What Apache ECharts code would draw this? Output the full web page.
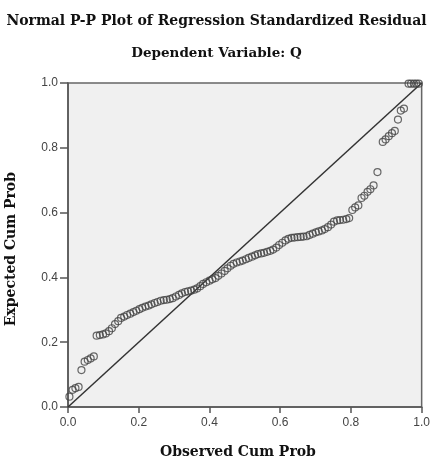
<!DOCTYPE html>
<html>
<head>
<meta charset="utf-8">
<script src="https://cdn.jsdelivr.net/npm/echarts@6/dist/echarts.min.js"></script>
<style>
html,body{margin:0;padding:0;background:#fff;}
#chart{width:433px;height:464px;}
</style>
</head>
<body>
<div id="chart"></div>
<script>
var titleText = "Normal P-P Plot of Regression Standardized Residual";
var subtitleText = "Dependent Variable: Q";
var xAxisTitle = "Observed Cum Prob";
var yAxisTitle = "Expected Cum Prob";
var tickValues = [0.0, 0.2, 0.4, 0.6, 0.8, 1.0];

var observed = [0.004,0.013,0.021,0.030,0.038,0.047,0.056,0.064,0.073,0.081,0.090,0.099,0.107,0.116,0.124,0.133,0.142,0.150,0.159,0.167,0.176,0.185,0.193,0.202,0.210,0.219,0.228,0.236,0.245,0.253,0.262,0.271,0.279,0.288,0.296,0.305,0.314,0.322,0.331,0.339,0.348,0.357,0.365,0.374,0.382,0.391,0.400,0.408,0.417,0.425,0.434,0.443,0.451,0.460,0.468,0.477,0.486,0.494,0.503,0.511,0.520,0.529,0.537,0.546,0.554,0.563,0.572,0.580,0.589,0.597,0.606,0.615,0.623,0.632,0.640,0.649,0.658,0.666,0.675,0.683,0.692,0.701,0.709,0.718,0.726,0.735,0.744,0.752,0.761,0.769,0.778,0.787,0.795,0.804,0.812,0.821,0.830,0.838,0.847,0.855,0.864,0.875,0.890,0.898,0.907,0.916,0.924,0.933,0.941,0.950,0.963,0.970,0.978,0.985,0.992];
var expected = [0.032,0.053,0.058,0.062,0.114,0.140,0.145,0.150,0.156,0.220,0.222,0.224,0.227,0.234,0.243,0.256,0.265,0.275,0.279,0.284,0.288,0.293,0.297,0.302,0.306,0.310,0.313,0.317,0.321,0.324,0.328,0.330,0.331,0.333,0.336,0.341,0.346,0.351,0.355,0.357,0.359,0.362,0.366,0.373,0.380,0.385,0.390,0.394,0.398,0.405,0.412,0.420,0.428,0.436,0.442,0.446,0.449,0.452,0.456,0.460,0.464,0.468,0.472,0.474,0.476,0.479,0.482,0.486,0.492,0.500,0.507,0.514,0.519,0.522,0.523,0.524,0.525,0.526,0.527,0.531,0.535,0.539,0.542,0.545,0.549,0.555,0.563,0.572,0.576,0.577,0.578,0.580,0.583,0.608,0.616,0.622,0.645,0.652,0.664,0.672,0.684,0.725,0.818,0.826,0.836,0.845,0.852,0.887,0.915,0.921,0.998,0.998,0.998,0.998,0.998];
var refLine = [[0,0],[1,1]];

var points = observed.map(function(x,i){return [x, expected[i]];});

var chart = echarts.init(document.getElementById('chart'), null, {renderer:'canvas'});
var serif = '"DejaVu Serif", serif';
var sans = '"Liberation Sans", Arial, sans-serif';
chart.setOption({
  animation:false,
  backgroundColor:'#ffffff',
  title:[
    {text:titleText, left:'center', top:9, textStyle:{fontFamily:serif, fontWeight:'bold', fontSize:14, color:'#111'}},
    {text:subtitleText, left:'center', top:41, textStyle:{fontFamily:serif, fontWeight:'bold', fontSize:13.5, color:'#111'}}
  ],
  grid:{left:68, right:7, top:83, bottom:57, show:true, backgroundColor:'#f0f0f0', borderColor:'#666', borderWidth:1.5},
  xAxis:{
    type:'value', min:0, max:1, interval:0.2,
    axisLine:{show:true, onZero:false, lineStyle:{color:'#555', width:1.5}},
    axisTick:{show:true, length:6, lineStyle:{color:'#555', width:1.5}},
    axisLabel:{color:'#444', fontFamily:sans, fontSize:12, margin:10, formatter:function(v){return v.toFixed(1);}},
    splitLine:{show:false}
  },
  yAxis:{
    type:'value', min:0, max:1, interval:0.2,
    axisLine:{show:true, onZero:false, lineStyle:{color:'#555', width:1.5}},
    axisTick:{show:true, length:8, lineStyle:{color:'#555', width:1.5}},
    axisLabel:{color:'#444', fontFamily:sans, fontSize:12, margin:10, formatter:function(v){return v.toFixed(1);}},
    splitLine:{show:false}
  },
  graphic:[
    {type:'text', left:160, top:445, style:{text:xAxisTitle, font:'bold 14px "DejaVu Serif", serif', fill:'#111'}},
    {type:'text', rotation:Math.PI/2, left:4, top:172, style:{text:yAxisTitle, font:'bold 14px "DejaVu Serif", serif', fill:'#111'}}
  ],
  series:[
    {type:'line', data:refLine, symbol:'none', lineStyle:{color:'#333', width:1.5}, z:2},
    {type:'scatter', data:points, symbol:'circle', symbolSize:7,
     itemStyle:{color:'rgba(0,0,0,0)', borderColor:'#444', borderWidth:1.2}, z:3}
  ]
});
</script>
</body>
</html>
